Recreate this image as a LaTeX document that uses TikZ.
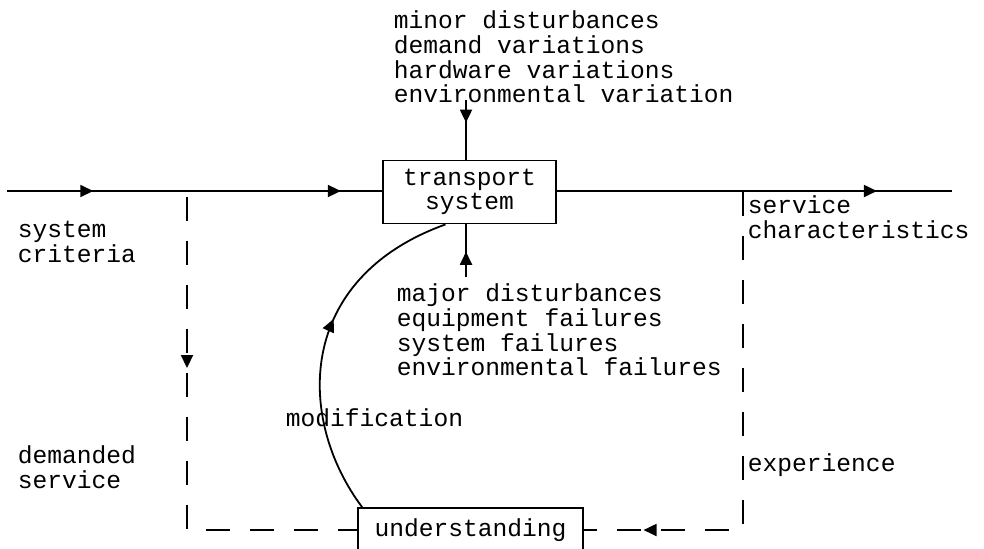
\documentclass[tikz,border=0pt]{standalone}
\usepackage{fontspec}
\setmonofont{Liberation Mono}
\usetikzlibrary{arrows.meta, decorations.markings, calc}

\begin{document}
\begin{tikzpicture}[x=0.5pt, y=-0.5pt, line width=0.9pt,
    every node/.style={font=\ttfamily\fontsize{12.3}{12.3}\selectfont},
    texto/.style={inner sep=0pt, anchor=west, align=left},
    caixa/.style={draw, minimum width=86.5pt, minimum height=31.5pt, inner sep=0pt, align=center},
    seta/.style={postaction={decorate, decoration={markings,
        mark=at position #1 with {\arrow{Triangle[length=6.5pt, width=6pt]}}}}},
    tracejado/.style={dash pattern=on 12pt off 10pt}]
    \useasboundingbox (0,0) rectangle (984,548);

    % Caixas
    \node[caixa] (trans) at (469.5,192) {transport\\system};
    \node[caixa, minimum width=112.5pt, minimum height=22pt] (under) at (470.5,530) {understanding};

    % Textos
    \node[texto] (minor) at (393,57) {minor disturbances\\demand variations\\hardware variations\\environmental variation};
    \node[texto] (major) at (396,330) {major disturbances\\equipment failures\\system failures\\environmental failures};
    \node[texto] (crit) at (17,242) {system\\criteria};
    \node[texto] (dem) at (17,467) {demanded\\service};
    \node[texto] (serv) at (747,217) {service\\characteristics};
    \node[texto] (exp) at (747,465) {experience};
    \node[texto] (mod) at (285,418) {modification};

    % Pontos livres
    \coordinate (ent) at (7,191);
    \coordinate (sai) at (952,191);
    \coordinate (topo) at (466,100);
    \coordinate (baixo) at (466,277);
    \coordinate (esq) at (187,197);
    \coordinate (dir) at (743,192);

    % Linha principal
    \draw[seta=0.23, seta=0.89] (ent) -- (ent -| trans.west);
    \draw[seta=0.81] (trans.east |- sai) -- (sai);

    % Perturbacoes
    \draw[seta=0.38] (topo) -- (topo |- trans.north);
    \draw[seta=0.48] (baixo) -- (baixo |- trans.south);

    % Realimentacao (tracejadas)
    \draw[tracejado, seta=0.34] (esq) |- (under.west);
    \draw[tracejado, seta=0.88] (dir) |- (under.east);

    % Modificacao
    \draw[seta=0.57] ($(under.north west)+(5,0)$) .. controls +(-66,-88) and +(-150,54) .. ($(trans.south)+(-24,0)$);
\end{tikzpicture}
\end{document}
